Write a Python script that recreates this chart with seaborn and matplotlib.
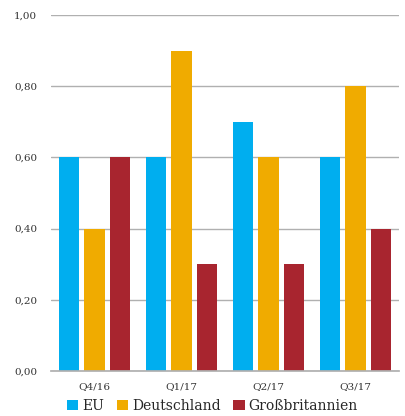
import matplotlib
matplotlib.use("Agg")
import matplotlib.pyplot as plt
import seaborn as sns
import pandas as pd
from matplotlib.ticker import FuncFormatter

quarters = ["Q4/16", "Q1/17", "Q2/17", "Q3/17"]
series = ["EU", "Deutschland", "Großbritannien"]
eu = [0.60, 0.60, 0.70, 0.60]
de = [0.40, 0.90, 0.60, 0.80]
gb = [0.60, 0.30, 0.30, 0.40]
colors = ["#00AEEF", "#F0AB00", "#A8252F"]

rows = []
for name, vals in zip(series, [eu, de, gb]):
    for q, v in zip(quarters, vals):
        rows.append({"Quartal": q, "Serie": name, "Wert": v})
df = pd.DataFrame(rows)

sns.set_theme(style="white")
plt.rcParams["font.family"] = ["DejaVu Serif"]

fig = plt.figure(figsize=(4.05, 4.16), dpi=100)
ax = fig.add_axes([0.126, 0.108, 0.859, 0.856])

sns.barplot(data=df, x="Quartal", y="Wert", hue="Serie", order=quarters,
            hue_order=series, palette=colors, width=0.88, gap=0.2,
            saturation=1, ax=ax, errorbar=None, linewidth=0)

ax.set_ylim(0, 1.0)
ax.set_yticks([0, 0.2, 0.4, 0.6, 0.8, 1.0])
ax.yaxis.set_major_formatter(FuncFormatter(lambda v, p: f"{v:.2f}".replace(".", ",")))
ax.grid(axis="y", color="#B0B0B0", linewidth=1)
ax.set_axisbelow(True)
for s in ["top", "right", "left"]:
    ax.spines[s].set_visible(False)
ax.spines["bottom"].set_color("#B0B0B0")
ax.set_xlabel("")
ax.set_ylabel("")
ax.tick_params(axis="both", length=0, labelsize=7.5, colors="#333333")
ax.tick_params(axis="y", pad=10)
ax.tick_params(axis="x", pad=8)
ax.set_xlim(-0.5, 3.5)

handles, labels = ax.get_legend_handles_labels()
ax.get_legend().remove()
fig.legend(handles, labels, loc="lower center", bbox_to_anchor=(0.525, 0.008),
           ncol=3, frameon=False, fontsize=10, handlelength=0.8, handleheight=0.8,
           handletextpad=0.3, columnspacing=0.9, borderaxespad=0, borderpad=0)

fig.savefig("out.png", dpi=100)
